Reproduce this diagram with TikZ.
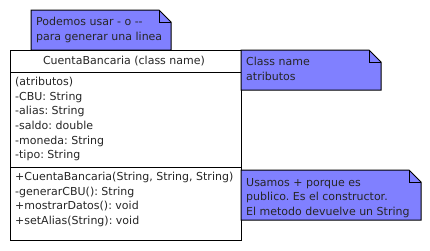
\documentclass[tikz,border=0pt]{standalone}
\usepackage{fontspec}
\setsansfont{DejaVu Sans}
\frenchspacing
\begin{document}
\begin{tikzpicture}[x=1pt,y=-1pt,
  lbl/.style={inner sep=0pt,anchor=mid west,text=black!85,font=\sffamily\fontsize{11}{13}\selectfont},
  notefill/.style={fill=notebg,draw=black,line width=1pt,line join=miter},
  boxline/.style={draw=black,line width=1pt}]
\definecolor{notebg}{HTML}{8080FF}
\useasboundingbox (0,0) rectangle (430,250);

% note above the class
\path[notefill] (31,10) -- (159,10) -- (171,22) -- (171,50) -- (31,50) -- cycle;
\draw[line width=1pt] (159,10) -- (159,22) -- (171,22);
\node[lbl] (n1a) at (36,23) {Podemos usar - o -{}-};
\node[lbl] (n1b) at (36,38) {para generar una linea};

% class box with its three compartments
\draw[boxline,fill=white] (10,50) rectangle (241,240);
\draw[boxline] (10,72) -- (241,72);
\draw[boxline] (10,167) -- (241,167);
\node[lbl,anchor=mid] (cname) at (124,62) {CuentaBancaria (class name)};
\node[lbl] (a0) at (15,83.5) {(atributos)};
\node[lbl] (a1) at (15,98.1) {-CBU: String};
\node[lbl] (a2) at (15,112.7) {-alias: String};
\node[lbl] (a3) at (15,127.3) {-saldo: double};
\node[lbl] (a4) at (15,141.9) {-moneda: String};
\node[lbl] (a5) at (15,156.5) {-tipo: String};
\node[lbl] (m0) at (15,178.5) {+CuentaBancaria(String, String, String)};
\node[lbl] (m1) at (15,193.1) {-generarCBU(): String};
\node[lbl] (m2) at (15,207.7) {+mostrarDatos(): void};
\node[lbl] (m3) at (15,222.3) {+setAlias(String): void};

% note beside the header
\path[notefill] (241,50) -- (369,50) -- (381,62) -- (381,90) -- (241,90) -- cycle;
\draw[line width=1pt] (369,50) -- (369,62) -- (381,62);
\node[lbl] (n2a) at (246,63) {Class name};
\node[lbl] (n2b) at (246,78) {atributos};

% note beside the methods
\path[notefill] (241,170) -- (409,170) -- (421,182) -- (421,220) -- (241,220) -- cycle;
\draw[line width=1pt] (409,170) -- (409,182) -- (421,182);
\node[lbl] (n3a) at (246,184) {Usamos + porque es};
\node[lbl] (n3b) at (246,198.5) {publico. Es el constructor.};
\node[lbl] (n3c) at (246,213) {El metodo devuelve un String};
\end{tikzpicture}
\end{document}
